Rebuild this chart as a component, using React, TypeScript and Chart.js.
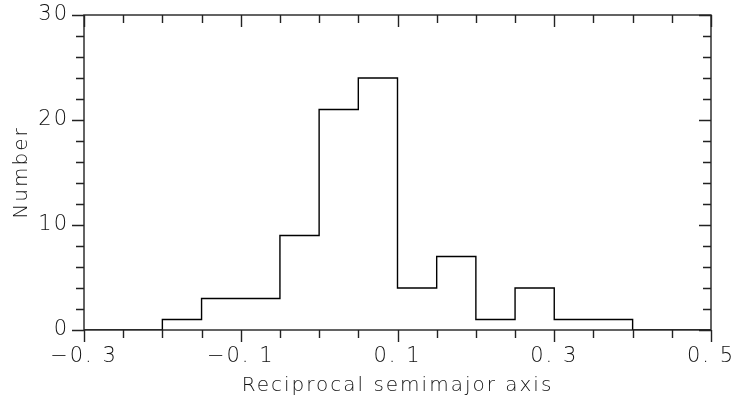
import React, { useEffect, useRef } from "react";
import { Chart, registerables } from "chart.js";

Chart.register(...registerables);

// Histogram bin edges (reciprocal semimajor axis) and counts
const binEdges = [-0.3, -0.25, -0.2, -0.15, -0.1, -0.05, 0, 0.05, 0.1, 0.15, 0.2, 0.25, 0.3, 0.35, 0.4, 0.45, 0.5];
const counts = [0, 0, 1, 3, 3, 9, 21, 24, 4, 7, 1, 4, 1, 1, 0, 0];

const xMajorTicks = [-0.3, -0.1, 0.1, 0.3, 0.5];
const yMajorTicks = [0, 10, 20, 30];
const xMin = -0.3;
const xMax = 0.5;
const xMinorStep = 0.05;
const yMin = 0;
const yMax = 30;
const yMinorStep = 2;

const xTitle = "Reciprocal semimajor axis";
const yTitle = "Number";

const FONT = "'DejaVu Sans', sans-serif";

function fmtX(v: number): string {
  const s = Math.abs(v).toFixed(1).replace(".", ". ");
  return (v < -1e-9 ? "\u2212" : "") + s;
}

const spacingPlugin = {
  id: "spacing",
  beforeLayout(chart: any) {
    chart.ctx.letterSpacing = "2px";
  },
  beforeDraw(chart: any) {
    chart.ctx.letterSpacing = "2px";
  },
};

const framePlugin = {
  id: "frame",
  afterDraw(chart: any) {
    const { ctx, chartArea, scales } = chart;
    const { left, right, top, bottom } = chartArea;
    const xs = scales.x;
    const ys = scales.y;
    ctx.save();
    ctx.strokeStyle = "#222";
    ctx.lineWidth = 1.4;
    ctx.strokeRect(left, top, right - left, bottom - top);
    const isMajor = (v: number, arr: number[]) => arr.some((m) => Math.abs(m - v) < 1e-6);
    ctx.beginPath();
    const nx = Math.round((xMax - xMin) / xMinorStep);
    for (let i = 0; i <= nx; i++) {
      const v = xMin + i * xMinorStep;
      const px = Math.round(xs.getPixelForValue(v)) + 0.5;
      const len = isMajor(v, xMajorTicks) ? 12 : 8;
      ctx.moveTo(px, bottom);
      ctx.lineTo(px, bottom + len);
      ctx.moveTo(px, top);
      ctx.lineTo(px, top + len);
    }
    const ny = Math.round((yMax - yMin) / yMinorStep);
    for (let i = 0; i <= ny; i++) {
      const v = yMin + i * yMinorStep;
      const py = Math.round(ys.getPixelForValue(v)) + 0.5;
      const len = isMajor(v, yMajorTicks) ? 12 : 8;
      ctx.moveTo(left - len, py);
      ctx.lineTo(left, py);
      ctx.moveTo(right - len, py);
      ctx.lineTo(right, py);
    }
    ctx.stroke();
    ctx.restore();
  },
};

export default function App() {
  const ref = useRef<HTMLCanvasElement | null>(null);
  useEffect(() => {
    document.body.style.margin = "0";
    const canvas = ref.current;
    if (!canvas) return;
    const pts = counts.map((c, i) => ({ x: binEdges[i], y: c }));
    pts.push({ x: binEdges[binEdges.length - 1], y: counts[counts.length - 1] });
    const zeroPad = (s: any) => {
      s.paddingLeft = 0;
      s.paddingRight = 0;
      s.paddingTop = 0;
      s.paddingBottom = 0;
    };
    const chart = new Chart(canvas, {
      type: "line",
      data: {
        datasets: [
          {
            data: pts,
            stepped: true,
            borderColor: "#000",
            borderWidth: 1.4,
            pointRadius: 0,
            fill: false,
          },
        ],
      },
      options: {
        responsive: false,
        animation: false,
        layout: { padding: { top: 15, right: 27, left: 0, bottom: 0 } },
        plugins: { legend: { display: false }, tooltip: { enabled: false } },
        scales: {
          x: {
            type: "linear",
            min: xMin,
            max: xMax,
            afterFit: (s: any) => {
              s.height = 70;
              zeroPad(s);
            },
            afterBuildTicks: (s: any) => {
              s.ticks = xMajorTicks.map((v) => ({ value: v }));
            },
            grid: { display: false, drawTicks: false },
            border: { display: false },
            ticks: {
              padding: 14,
              color: "#111",
              font: { family: FONT, size: 21, weight: "200" as any },
              maxRotation: 0,
              autoSkip: false,
              callback: (v: any) => fmtX(Number(v)),
            },
            title: {
              display: true,
              text: xTitle,
              color: "#111",
              font: { family: FONT, size: 20, weight: "200" as any },
              padding: { top: 0, bottom: 2 },
            },
          },
          y: {
            type: "linear",
            min: yMin,
            max: yMax,
            afterFit: (s: any) => {
              s.width = 84;
              zeroPad(s);
            },
            afterBuildTicks: (s: any) => {
              s.ticks = yMajorTicks.map((v) => ({ value: v }));
            },
            grid: { display: false, drawTicks: false },
            border: { display: false },
            ticks: {
              padding: 15,
              color: "#111",
              font: { family: FONT, size: 21, weight: "200" as any },
              callback: (v: any) => String(v),
            },
            title: {
              display: true,
              text: yTitle,
              color: "#111",
              font: { family: FONT, size: 20, weight: "200" as any },
              padding: { top: 10, bottom: 0 },
            },
          },
        },
      },
      plugins: [spacingPlugin, framePlugin],
    });
    return () => chart.destroy();
  }, []);
  return <canvas ref={ref} width={738} height={400} style={{ display: "block" }} />;
}
